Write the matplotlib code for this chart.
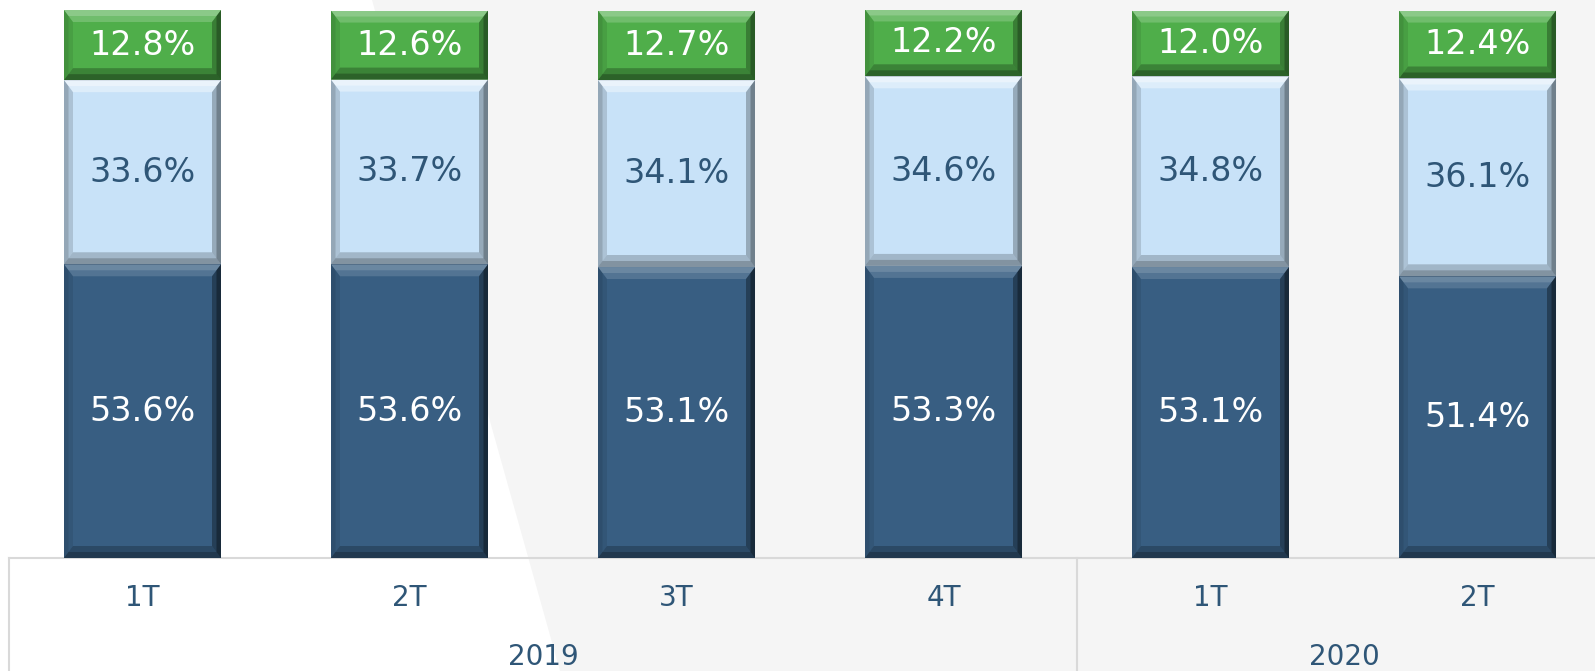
import numpy as np
import matplotlib
matplotlib.use("Agg")
import matplotlib.pyplot as plt
from matplotlib.patches import Polygon
from matplotlib.lines import Line2D
from matplotlib.transforms import blended_transform_factory

# data
quarters = ["1T", "2T", "3T", "4T", "1T", "2T"]
years = ["2019", "2020"]
year_groups = [(0, 3), (4, 5)]   # first / last quarter index of each year
dark_vals = [53.6, 53.6, 53.1, 53.3, 53.1, 51.4]
light_vals = [33.6, 33.7, 34.1, 34.6, 34.8, 36.1]
green_vals = [12.8, 12.6, 12.7, 12.2, 12.0, 12.4]

DARK = "#385e82"
LIGHT = "#c8e2f8"
GREEN = "#4fae4a"
TXT = "#2f5677"
plt.rcParams["font.family"] = ["DejaVu Sans"]

W, H = 1595, 671
fig = plt.figure(figsize=(W / 100, H / 100), dpi=100, facecolor="#f5f5f5")
# white wedge on the left of the background
fig.patches.append(Polygon([[0, 1], [372 / W, 1], [560 / W, 0], [0, 0]], closed=True,
                           transform=fig.transFigure, facecolor="white",
                           edgecolor="none", zorder=-5))

ax = fig.add_axes([9 / W, (H - 558) / H, 1 - 9 / W, (558 - 10) / H])
ax.set_zorder(2)
ax.set_facecolor("none")
ax.set_xlim(-0.5, 5.44)
ax.set_ylim(0, 100)
ax.axis("off")

x = np.arange(len(quarters))
bw = 0.588
b1 = ax.bar(x, dark_vals, bw, color=DARK, edgecolor="none", zorder=2)
b2 = ax.bar(x, light_vals, bw, bottom=dark_vals, color=LIGHT, edgecolor="none", zorder=2)
b3 = ax.bar(x, green_vals, bw, bottom=np.add(dark_vals, light_vals), color=GREEN,
            edgecolor="none", zorder=2)

fig.canvas.draw()
inv = ax.transData.inverted()


def bevel(rect, top_a, bot_a, left_a, right_a, d=12, ds=9):
    # bevelled edge around one bar segment, drawn in pixel space, two layers
    (x0, y0), (x1, y1) = ax.transData.transform(
        [[rect.get_x(), rect.get_y()],
         [rect.get_x() + rect.get_width(), rect.get_y() + rect.get_height()]])
    for k in (1.0, 0.5):
        dd, dss = d * k, ds * k
        outer = [(x0, y0), (x1, y0), (x1, y1), (x0, y1)]
        inner = [(x0 + dss, y0 + dd), (x1 - dss, y0 + dd),
                 (x1 - dss, y1 - dd), (x0 + dss, y1 - dd)]
        sides = [
            ([outer[3], outer[2], inner[2], inner[3]], "white", top_a),
            ([outer[0], outer[1], inner[1], inner[0]], "black", bot_a),
            ([outer[0], outer[3], inner[3], inner[0]], "black", left_a),
            ([outer[1], outer[2], inner[2], inner[1]], "black", right_a),
        ]
        for pts, col, a in sides:
            ax.add_patch(Polygon(inv.transform(pts), closed=True, facecolor=col,
                                 edgecolor="none", alpha=a * 0.55, zorder=3))


for r in b1:
    bevel(r, 0.25, 0.4, 0.15, 0.6)
for r in b2:
    bevel(r, 0.7, 0.35, 0.25, 0.45)
for r in b3:
    bevel(r, 0.35, 0.45, 0.15, 0.5)

# value labels
for i in x:
    ax.text(i, dark_vals[i] / 2, f"{dark_vals[i]:.1f}%", ha="center", va="center",
            color="white", fontsize=24, zorder=5)
    ax.text(i, dark_vals[i] + light_vals[i] / 2, f"{light_vals[i]:.1f}%", ha="center",
            va="center", color=TXT, fontsize=24, zorder=5)
    ax.text(i, dark_vals[i] + light_vals[i] + green_vals[i] / 2, f"{green_vals[i]:.1f}%",
            ha="center", va="center", color="white", fontsize=24, zorder=5)

# category axis: quarter labels, year labels and box lines
bt = blended_transform_factory(ax.transData, fig.transFigure)
y_axis = (H - 558) / H
for i, q in enumerate(quarters):
    ax.text(i, (H - 598) / H, q, transform=bt, ha="center", va="center",
            color=TXT, fontsize=20)
for yr, (a, b) in zip(years, year_groups):
    ax.text((a + b) / 2, (H - 657) / H, yr, transform=bt, ha="center", va="center",
            color=TXT, fontsize=20)

line_kw = dict(color="#d9d9d9", lw=1.5, transform=bt, clip_on=False, zorder=1)
ax.add_line(Line2D([-0.5, 6], [y_axis, y_axis], **line_kw))
for xs in [-0.5, year_groups[0][1] + 0.5]:
    ax.add_line(Line2D([xs, xs], [0, y_axis], **line_kw))

fig.savefig("out.png", dpi=100, facecolor=fig.get_facecolor())
